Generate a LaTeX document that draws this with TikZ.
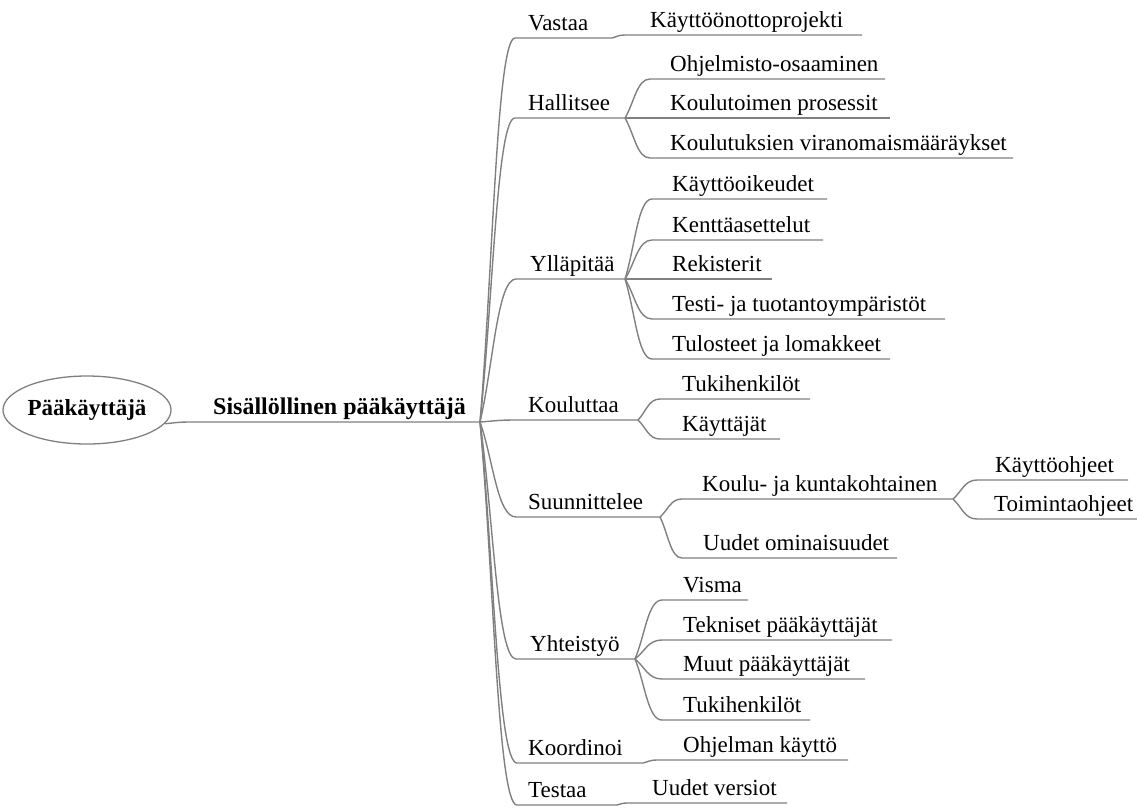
\documentclass[tikz,border=0pt]{standalone}
\usepackage{fontspec}
\setmainfont{Liberation Serif}
\usetikzlibrary{shapes.geometric,calc}
\definecolor{lc}{RGB}{128,128,128}
\begin{document}
\begin{tikzpicture}[x=1pt,y=-1pt,
  ln/.style={draw=lc,line width=1.4pt},
  lbl/.style={anchor=base west,inner sep=0pt,font=\fontsize{23}{27}\selectfont},
  lblb/.style={lbl,font=\fontsize{24}{28}\selectfont\bfseries},
  rootnode/.style={draw=lc,line width=1.3pt,ellipse,minimum width=154pt,minimum height=68pt,inner sep=0pt,font=\fontsize{23}{27}\selectfont\bfseries},
  br/.style={to path={let \p1=(\tikztostart), \p2=(\tikztotarget) in .. controls (0.63*\x1+0.37*\x2,0.6*\y1+0.4*\y2) and (0.52*\x1+0.48*\x2,\y2) .. (\tikztotarget)}}]
\useasboundingbox (0,0) rectangle (1137,807);

% root
\node[rootnode] (root) at (87,410) {Pääkäyttäjä};
\node[lblb] (s) at (213,414) {Sisällöllinen pääkäyttäjä};
\coordinate (s-s) at (190,422);
\coordinate (hub) at (480,422);
\draw[ln] (root.-10) to[br] (s-s) -- (hub);

% level 1: name/text/x/y/start/end
\foreach \nm/\txt/\tx/\ly/\sx/\ex in {
  va/Vastaa/528/38/515/612,
  ha/Hallitsee/528/118/515/625,
  yl/Ylläpitää/530/279/516/625,
  ko/Kouluttaa/528/420/515/638,
  su/Suunnittelee/528/517/516/660,
  yh/Yhteistyö/530/659/516/635,
  kr/Koordinoi/528/763/517/643,
  te/Testaa/528/805/517/617}{
  \node[lbl] (\nm) at (\tx,\ly-8) {\txt};
  \coordinate (\nm-s) at (\sx,\ly);
  \coordinate (\nm-e) at (\ex,\ly);
  \draw[ln] (hub) to[br] (\nm-s) -- (\nm-e);
}

% level 2 and 3: parent/name/text/x/y/start/end
\foreach \pa/\nm/\txt/\tx/\ly/\sx/\ex in {
  va/va1/Käyttöönottoprojekti/650/35/625/862,
  ha/ha1/Ohjelmisto-osaaminen/670/79/650/885,
  ha/ha2/Koulutoimen prosessit/670/118/650/890,
  ha/ha3/Koulutuksien viranomaismääräykset/670/158/650/1013,
  yl/yl1/Käyttöoikeudet/672/199/652/827,
  yl/yl2/Kenttäasettelut/672/240/652/823,
  yl/yl3/Rekisterit/672/279/652/772,
  yl/yl4/Testi- ja tuotantoympäristöt/672/319/652/945,
  yl/yl5/Tulosteet ja lomakkeet/672/359/652/890,
  ko/ko1/Tukihenkilöt/682/399/660/810,
  ko/ko2/Käyttäjät/682/439/660/780,
  su/su1/Koulu- ja kuntakohtainen/702/499/682/953,
  su/su2/Uudet ominaisuudet/703/558/682/897,
  yh/yh1/Visma/683/600/662/748,
  yh/yh2/Tekniset pääkäyttäjät/683/640/662/892,
  yh/yh3/Muut pääkäyttäjät/683/679/662/865,
  yh/yh4/Tukihenkilöt/683/720/662/810,
  kr/kr1/Ohjelman käyttö/683/760/657/848,
  te/te1/Uudet versiot/652/803/627/787,
  su1/su11/Käyttöohjeet/995/480/977/1128,
  su1/su12/Toimintaohjeet/994/519/977/1137}{
  \node[lbl] (\nm) at (\tx,\ly-8) {\txt};
  \coordinate (\nm-s) at (\sx,\ly);
  \coordinate (\nm-e) at (\ex,\ly);
  \draw[ln] (\pa-e) to[br] (\nm-s) -- (\nm-e);
}
\end{tikzpicture}
\end{document}
